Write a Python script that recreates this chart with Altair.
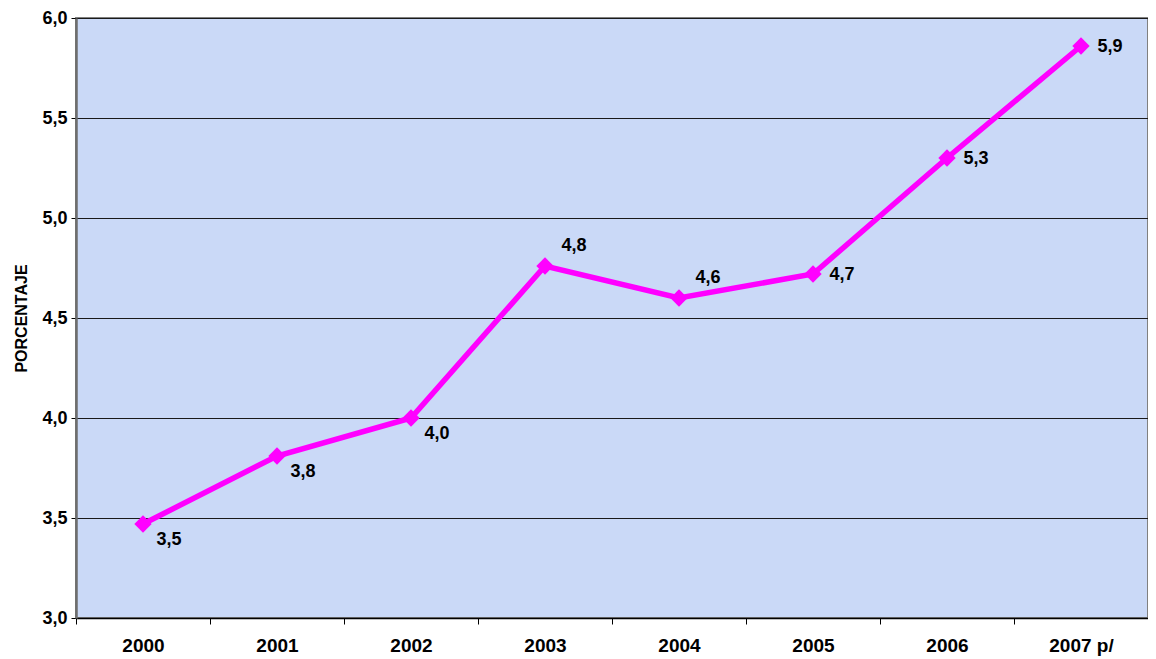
import altair as alt
import pandas as pd

years = ["2000", "2001", "2002", "2003", "2004", "2005", "2006", "2007 p/"]
values = [3.47, 3.81, 4.00, 4.76, 4.60, 4.72, 5.30, 5.86]
placement = ["below", "below", "below", "above", "above", "right", "right", "right"]

df = pd.DataFrame({"year": years, "value": values, "place": placement})

FONT = "Liberation Sans"

x = alt.X("year:N", sort=years, title=None,
          scale=alt.Scale(type="band", paddingInner=0, paddingOuter=0),
          axis=alt.Axis(labelAngle=0, labelFont=FONT, labelFontSize=19, labelFontWeight="bold",
                        labelColor="black", labelPadding=12, tickBand="extent", tickSize=6,
                        tickColor="black", domainColor="black", domainWidth=1.5, grid=False))
y = alt.Y("value:Q", title="PORCENTAJE",
          scale=alt.Scale(domain=[3, 6], nice=False, zero=False),
          axis=alt.Axis(values=[3, 3.5, 4, 4.5, 5, 5.5, 6],
                        labelExpr="replace(format(datum.value, '.1f'), '.', ',')",
                        labelFont=FONT, labelFontSize=18, labelFontWeight="bold", labelColor="black",
                        labelPadding=4, tickSize=5, tickColor="black",
                        domainColor="#6e6e6e", domainWidth=2.5,
                        grid=True, gridColor="#1a1a1a", gridWidth=1,
                        titleFont=FONT, titleFontSize=16, titleFontWeight="bold", titleColor="black",
                        titlePadding=12))

base = alt.Chart(df)

line = base.mark_line(color="#FF00FF", strokeWidth=5.5).encode(x=x, y=y)
pts = base.mark_point(shape="diamond", filled=True, color="#FF00FF", size=300, opacity=1).encode(x=x, y=y)

label_expr = "replace(format(datum.value, '.1f'), '.', ',')"

def labels(place, dx, dy):
    return base.transform_filter(alt.datum.place == place).transform_calculate(
        lab=label_expr
    ).mark_text(font=FONT, fontSize=18, fontWeight="bold", color="black",
                dx=dx, dy=dy, align="center", baseline="middle").encode(
        x=x, y=y, text="lab:N")

chart = alt.layer(
    line, pts,
    labels("below", 26, 16),
    labels("above", 29, -20),
    labels("right", 29, 1),
).properties(
    width=1072, height=600,
    padding={"left": 68, "top": 10, "right": 0, "bottom": 41},
    autosize=alt.AutoSizeParams(type="none"),
    background="white",
).configure_view(
    fill="#cad9f7", stroke="#808080", strokeWidth=2
)

chart.save("out.html", embed_options={"renderer": "svg", "actions": False})
